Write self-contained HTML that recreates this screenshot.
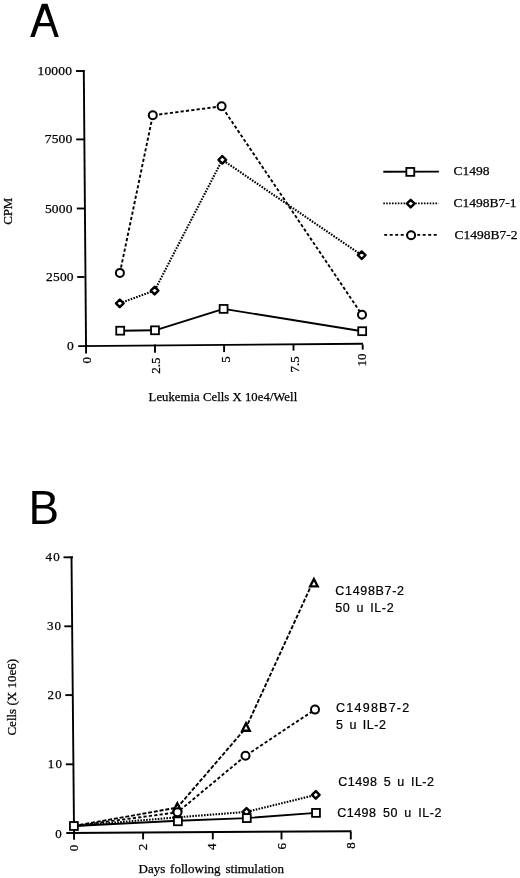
<!DOCTYPE html>
<html><head><meta charset="utf-8"><title>Figure</title>
<style>
html,body{margin:0;padding:0;background:#fff;}
body{width:520px;height:878px;overflow:hidden;font-family:"Liberation Serif", serif;}
svg{display:block;will-change:transform;filter:blur(0.3px);}
</style></head>
<body>
<svg width="520" height="878" viewBox="0 0 520 878">
<rect width="520" height="878" fill="#fff"/>
<path fill-rule="evenodd" fill="#000" d="M41.9,3.85 L47.5,3.85 L58.8,36.9 L54.7,36.9 L51.0,26.3 L38.4,26.3 L34.6,36.9 L30.2,36.9 Z M44.7,8.9 L49.8,23.1 L39.6,23.1 Z"/>
<text transform="translate(28.4,523.6) scale(0.955,1)" font-family='"Liberation Sans", sans-serif' font-size="48" text-anchor="start">B</text>
<line x1="83.8" y1="70.1" x2="86.1" y2="353.6" stroke="#000" stroke-width="1.9" stroke-linecap="butt"/>
<line x1="78.2" y1="346.1" x2="363.0" y2="343.7" stroke="#000" stroke-width="1.9" stroke-linecap="butt"/>
<line x1="76.0" y1="71.0" x2="84.5" y2="71.0" stroke="#000" stroke-width="1.9" stroke-linecap="butt"/>
<line x1="76.2" y1="139.4" x2="84.5" y2="139.4" stroke="#000" stroke-width="1.9" stroke-linecap="butt"/>
<line x1="76.8" y1="208.5" x2="84.5" y2="208.5" stroke="#000" stroke-width="1.9" stroke-linecap="butt"/>
<line x1="77.2" y1="277.0" x2="84.5" y2="277.0" stroke="#000" stroke-width="1.9" stroke-linecap="butt"/>
<line x1="155.0" y1="344.5" x2="155.0" y2="352.7" stroke="#000" stroke-width="1.9" stroke-linecap="butt"/>
<line x1="224.1" y1="344.5" x2="224.1" y2="352.1" stroke="#000" stroke-width="1.9" stroke-linecap="butt"/>
<line x1="293.5" y1="344.5" x2="293.5" y2="350.6" stroke="#000" stroke-width="1.9" stroke-linecap="butt"/>
<line x1="362.7" y1="344.5" x2="362.7" y2="349.6" stroke="#000" stroke-width="1.9" stroke-linecap="butt"/>
<text x="72.2" y="75.2" font-family='"Liberation Serif", serif' font-size="13.5" text-anchor="end" stroke="#000" stroke-width="0.25" letter-spacing="0.2">10000</text>
<text x="72.5" y="143.39999999999998" font-family='"Liberation Serif", serif' font-size="13.5" text-anchor="end" stroke="#000" stroke-width="0.25" letter-spacing="0.2">7500</text>
<text x="72.7" y="212.7" font-family='"Liberation Serif", serif' font-size="13.5" text-anchor="end" stroke="#000" stroke-width="0.25" letter-spacing="0.2">5000</text>
<text x="73.8" y="281.2" font-family='"Liberation Serif", serif' font-size="13.5" text-anchor="end" stroke="#000" stroke-width="0.25" letter-spacing="0.2">2500</text>
<text x="74.0" y="350.2" font-family='"Liberation Serif", serif' font-size="13.5" text-anchor="end" stroke="#000" stroke-width="0.25" letter-spacing="0.2">0</text>
<text transform="translate(90.9,357.0) rotate(-90)" font-family='"Liberation Serif", serif' font-size="13" text-anchor="end" stroke="#000" stroke-width="0.25">0</text>
<text transform="translate(160.1,357.6) rotate(-90)" font-family='"Liberation Serif", serif' font-size="13" text-anchor="end" stroke="#000" stroke-width="0.25">2.5</text>
<text transform="translate(229.6,356.2) rotate(-90)" font-family='"Liberation Serif", serif' font-size="13" text-anchor="end" stroke="#000" stroke-width="0.25">5</text>
<text transform="translate(298.8,356.3) rotate(-90)" font-family='"Liberation Serif", serif' font-size="13" text-anchor="end" stroke="#000" stroke-width="0.25">7.5</text>
<text transform="translate(365.6,353.6) rotate(-90)" font-family='"Liberation Serif", serif' font-size="13" text-anchor="end" stroke="#000" stroke-width="0.25">10</text>
<text transform="translate(12.1,211.2) rotate(-90)" font-family='"Liberation Serif", serif' font-size="13" text-anchor="middle" stroke="#000" stroke-width="0.25" letter-spacing="-0.2">CPM</text>
<text x="148.6" y="400.9" font-family='"Liberation Serif", serif' font-size="12.7" text-anchor="start" stroke="#000" stroke-width="0.25" letter-spacing="0.05">Leukemia Cells X 10e4/Well</text>
<polyline points="120.2,330.7 155.0,330.3 223.6,308.9 362.2,331.2" fill="none" stroke="#000" stroke-width="1.9" stroke-linejoin="round"/>
<polyline points="119.8,303.3 154.6,290.6 222.3,159.8 361.7,255.2" fill="none" stroke="#000" stroke-width="2.1" stroke-linejoin="round" stroke-dasharray="1.6 1.3"/>
<polyline points="119.9,272.9 152.8,115.3 221.6,106.3 362.0,314.8" fill="none" stroke="#000" stroke-width="1.9" stroke-linejoin="round" stroke-dasharray="3.2 2.2"/>
<rect x="116.25" y="326.75" width="7.9" height="7.9" fill="#fff" stroke="#000" stroke-width="1.8"/>
<rect x="151.05" y="326.35" width="7.9" height="7.9" fill="#fff" stroke="#000" stroke-width="1.8"/>
<rect x="219.65" y="304.95" width="7.9" height="7.9" fill="#fff" stroke="#000" stroke-width="1.8"/>
<rect x="358.25" y="327.25" width="7.9" height="7.9" fill="#fff" stroke="#000" stroke-width="1.8"/>
<polygon points="119.80,299.50 123.60,303.30 119.80,307.10 116.00,303.30" fill="#fff" stroke="#000" stroke-width="2.4" stroke-linejoin="round"/>
<polygon points="154.60,286.80 158.40,290.60 154.60,294.40 150.80,290.60" fill="#fff" stroke="#000" stroke-width="2.4" stroke-linejoin="round"/>
<polygon points="222.30,156.00 226.10,159.80 222.30,163.60 218.50,159.80" fill="#fff" stroke="#000" stroke-width="2.4" stroke-linejoin="round"/>
<polygon points="361.70,251.40 365.50,255.20 361.70,259.00 357.90,255.20" fill="#fff" stroke="#000" stroke-width="2.4" stroke-linejoin="round"/>
<circle cx="119.9" cy="272.9" r="4.0" fill="#fff" stroke="#000" stroke-width="2.0"/>
<circle cx="152.8" cy="115.3" r="4.0" fill="#fff" stroke="#000" stroke-width="2.0"/>
<circle cx="221.6" cy="106.3" r="4.0" fill="#fff" stroke="#000" stroke-width="2.0"/>
<circle cx="362.0" cy="314.8" r="4.0" fill="#fff" stroke="#000" stroke-width="2.0"/>
<line x1="383.3" y1="171.8" x2="438.9" y2="171.6" stroke="#000" stroke-width="1.9" stroke-linecap="butt"/>
<rect x="406.35" y="167.95" width="7.9" height="7.9" fill="#fff" stroke="#000" stroke-width="1.8"/>
<line x1="383.3" y1="203.4" x2="438.6" y2="203.4" stroke="#000" stroke-width="1.9" stroke-linecap="butt" stroke-dasharray="1.6 1.3"/>
<polygon points="410.70,199.80 414.50,203.60 410.70,207.40 406.90,203.60" fill="#fff" stroke="#000" stroke-width="2.4" stroke-linejoin="round"/>
<line x1="384.2" y1="234.9" x2="436.9" y2="234.9" stroke="#000" stroke-width="1.9" stroke-linecap="butt" stroke-dasharray="3.0 2.5"/>
<circle cx="411.1" cy="235.3" r="4.0" fill="#fff" stroke="#000" stroke-width="2.0"/>
<text x="453.5" y="174.6" font-family='"Liberation Serif", serif' font-size="13.5" text-anchor="start" stroke="#000" stroke-width="0.25">C1498</text>
<text x="453.5" y="206.9" font-family='"Liberation Serif", serif' font-size="13.5" text-anchor="start" stroke="#000" stroke-width="0.25">C1498B7-1</text>
<text x="454.4" y="238.7" font-family='"Liberation Serif", serif' font-size="13.5" text-anchor="start" stroke="#000" stroke-width="0.25">C1498B7-2</text>
<line x1="71.5" y1="556.4" x2="74.1" y2="839.8" stroke="#000" stroke-width="1.9" stroke-linecap="butt"/>
<line x1="66.3" y1="833.0" x2="351.5" y2="831.2" stroke="#000" stroke-width="1.9" stroke-linecap="butt"/>
<line x1="63.5" y1="557.3" x2="73.0" y2="557.3" stroke="#000" stroke-width="1.9" stroke-linecap="butt"/>
<line x1="64.3" y1="626.3" x2="73.0" y2="626.3" stroke="#000" stroke-width="1.9" stroke-linecap="butt"/>
<line x1="65.3" y1="695.1" x2="73.0" y2="695.1" stroke="#000" stroke-width="1.9" stroke-linecap="butt"/>
<line x1="65.8" y1="764.3" x2="73.0" y2="764.3" stroke="#000" stroke-width="1.9" stroke-linecap="butt"/>
<line x1="143.1" y1="832.0" x2="143.1" y2="839.4" stroke="#000" stroke-width="1.9" stroke-linecap="butt"/>
<line x1="212.8" y1="832.0" x2="212.8" y2="839.4" stroke="#000" stroke-width="1.9" stroke-linecap="butt"/>
<line x1="281.5" y1="832.0" x2="281.5" y2="839.4" stroke="#000" stroke-width="1.9" stroke-linecap="butt"/>
<line x1="350.8" y1="832.0" x2="350.8" y2="839.4" stroke="#000" stroke-width="1.9" stroke-linecap="butt"/>
<text x="60.9" y="561.2" font-family='"Liberation Serif", serif' font-size="13" text-anchor="end" stroke="#000" stroke-width="0.25" letter-spacing="1.2">40</text>
<text x="62.3" y="630.4000000000001" font-family='"Liberation Serif", serif' font-size="13" text-anchor="end" stroke="#000" stroke-width="0.25" letter-spacing="1.2">30</text>
<text x="62.8" y="699.2" font-family='"Liberation Serif", serif' font-size="13" text-anchor="end" stroke="#000" stroke-width="0.25" letter-spacing="1.2">20</text>
<text x="63.1" y="768.2" font-family='"Liberation Serif", serif' font-size="13" text-anchor="end" stroke="#000" stroke-width="0.25" letter-spacing="1.2">10</text>
<text x="63.0" y="837.5" font-family='"Liberation Serif", serif' font-size="13" text-anchor="end" stroke="#000" stroke-width="0.25" letter-spacing="1.2">0</text>
<text transform="translate(78.3,844.8) rotate(-90)" font-family='"Liberation Serif", serif' font-size="13" text-anchor="end" stroke="#000" stroke-width="0.25">0</text>
<text transform="translate(146.7,843.8) rotate(-90)" font-family='"Liberation Serif", serif' font-size="13" text-anchor="end" stroke="#000" stroke-width="0.25">2</text>
<text transform="translate(216.3,843.4) rotate(-90)" font-family='"Liberation Serif", serif' font-size="13" text-anchor="end" stroke="#000" stroke-width="0.25">4</text>
<text transform="translate(285.6,843.0) rotate(-90)" font-family='"Liberation Serif", serif' font-size="13" text-anchor="end" stroke="#000" stroke-width="0.25">6</text>
<text transform="translate(354.6,842.3) rotate(-90)" font-family='"Liberation Serif", serif' font-size="13" text-anchor="end" stroke="#000" stroke-width="0.25">8</text>
<text transform="translate(15.6,697.3) rotate(-90)" font-family='"Liberation Serif", serif' font-size="13" text-anchor="middle" stroke="#000" stroke-width="0.25">Cells (X 10e6)</text>
<text x="138.5" y="872.9" font-family='"Liberation Serif", serif' font-size="13" text-anchor="start" stroke="#000" stroke-width="0.25" word-spacing="1.6">Days following stimulation</text>
<polyline points="73.9,826.0 177.9,820.8 246.8,818.1 316.0,812.9" fill="none" stroke="#000" stroke-width="1.9" stroke-linejoin="round"/>
<polyline points="73.9,826.0 177.6,817.3 246.5,811.9 315.8,794.9" fill="none" stroke="#000" stroke-width="2.1" stroke-linejoin="round" stroke-dasharray="1.6 1.3"/>
<polyline points="73.9,826.0 177.5,812.3 245.5,755.8 315.0,709.6" fill="none" stroke="#000" stroke-width="1.9" stroke-linejoin="round" stroke-dasharray="3.2 2.2"/>
<polyline points="73.9,826.0 177.3,807.6 246.0,727.8 311.7,584.5" fill="none" stroke="#000" stroke-width="1.9" stroke-linejoin="round" stroke-dasharray="4.0 1.8"/>
<polygon points="177.60,813.50 181.40,817.30 177.60,821.10 173.80,817.30" fill="#fff" stroke="#000" stroke-width="2.4" stroke-linejoin="round"/>
<polygon points="246.50,808.10 250.30,811.90 246.50,815.70 242.70,811.90" fill="#fff" stroke="#000" stroke-width="2.4" stroke-linejoin="round"/>
<polygon points="315.80,791.10 319.60,794.90 315.80,798.70 312.00,794.90" fill="#fff" stroke="#000" stroke-width="2.4" stroke-linejoin="round"/>
<polygon points="177.3,803.16 181.10,810.56 173.50,810.56" fill="#fff" stroke="#000" stroke-width="2.3" stroke-linejoin="miter"/>
<polygon points="246.0,723.36 249.80,730.76 242.20,730.76" fill="#fff" stroke="#000" stroke-width="2.3" stroke-linejoin="miter"/>
<polygon points="313.9,579.06 317.70,586.46 310.10,586.46" fill="#fff" stroke="#000" stroke-width="2.3" stroke-linejoin="miter"/>
<circle cx="177.5" cy="812.3" r="4.0" fill="#fff" stroke="#000" stroke-width="2.0"/>
<circle cx="245.5" cy="755.8" r="4.0" fill="#fff" stroke="#000" stroke-width="2.0"/>
<circle cx="315.0" cy="709.6" r="4.0" fill="#fff" stroke="#000" stroke-width="2.0"/>
<rect x="69.95" y="822.05" width="7.9" height="7.9" fill="#fff" stroke="#000" stroke-width="1.8"/>
<rect x="173.95" y="817.35" width="7.9" height="7.9" fill="#fff" stroke="#000" stroke-width="1.8"/>
<rect x="242.85" y="814.15" width="7.9" height="7.9" fill="#fff" stroke="#000" stroke-width="1.8"/>
<rect x="312.05" y="808.95" width="7.9" height="7.9" fill="#fff" stroke="#000" stroke-width="1.8"/>
<text x="335.3" y="594.7" font-family='"Liberation Sans", sans-serif' font-size="12.5" text-anchor="start" stroke="#000" stroke-width="0.22" letter-spacing="0.68">C1498B7-2</text>
<text x="335.3" y="611.9" font-family='"Liberation Sans", sans-serif' font-size="12.5" text-anchor="start" stroke="#000" stroke-width="0.22" letter-spacing="0.62" word-spacing="2">50 u IL-2</text>
<text x="336.0" y="712.3" font-family='"Liberation Sans", sans-serif' font-size="12.5" text-anchor="start" stroke="#000" stroke-width="0.22" letter-spacing="1.25">C1498B7-2</text>
<text x="336.0" y="728.7" font-family='"Liberation Sans", sans-serif' font-size="12.5" text-anchor="start" stroke="#000" stroke-width="0.22" letter-spacing="0.5" word-spacing="2">5 u IL-2</text>
<text x="338.2" y="785.6" font-family='"Liberation Sans", sans-serif' font-size="12.5" text-anchor="start" stroke="#000" stroke-width="0.22" letter-spacing="0.5" word-spacing="2.2">C1498 5 u IL-2</text>
<text x="337.2" y="817.3" font-family='"Liberation Sans", sans-serif' font-size="12.5" text-anchor="start" stroke="#000" stroke-width="0.22" letter-spacing="0.5" word-spacing="2.5">C1498 50 u IL-2</text>
</svg>
</body></html>
